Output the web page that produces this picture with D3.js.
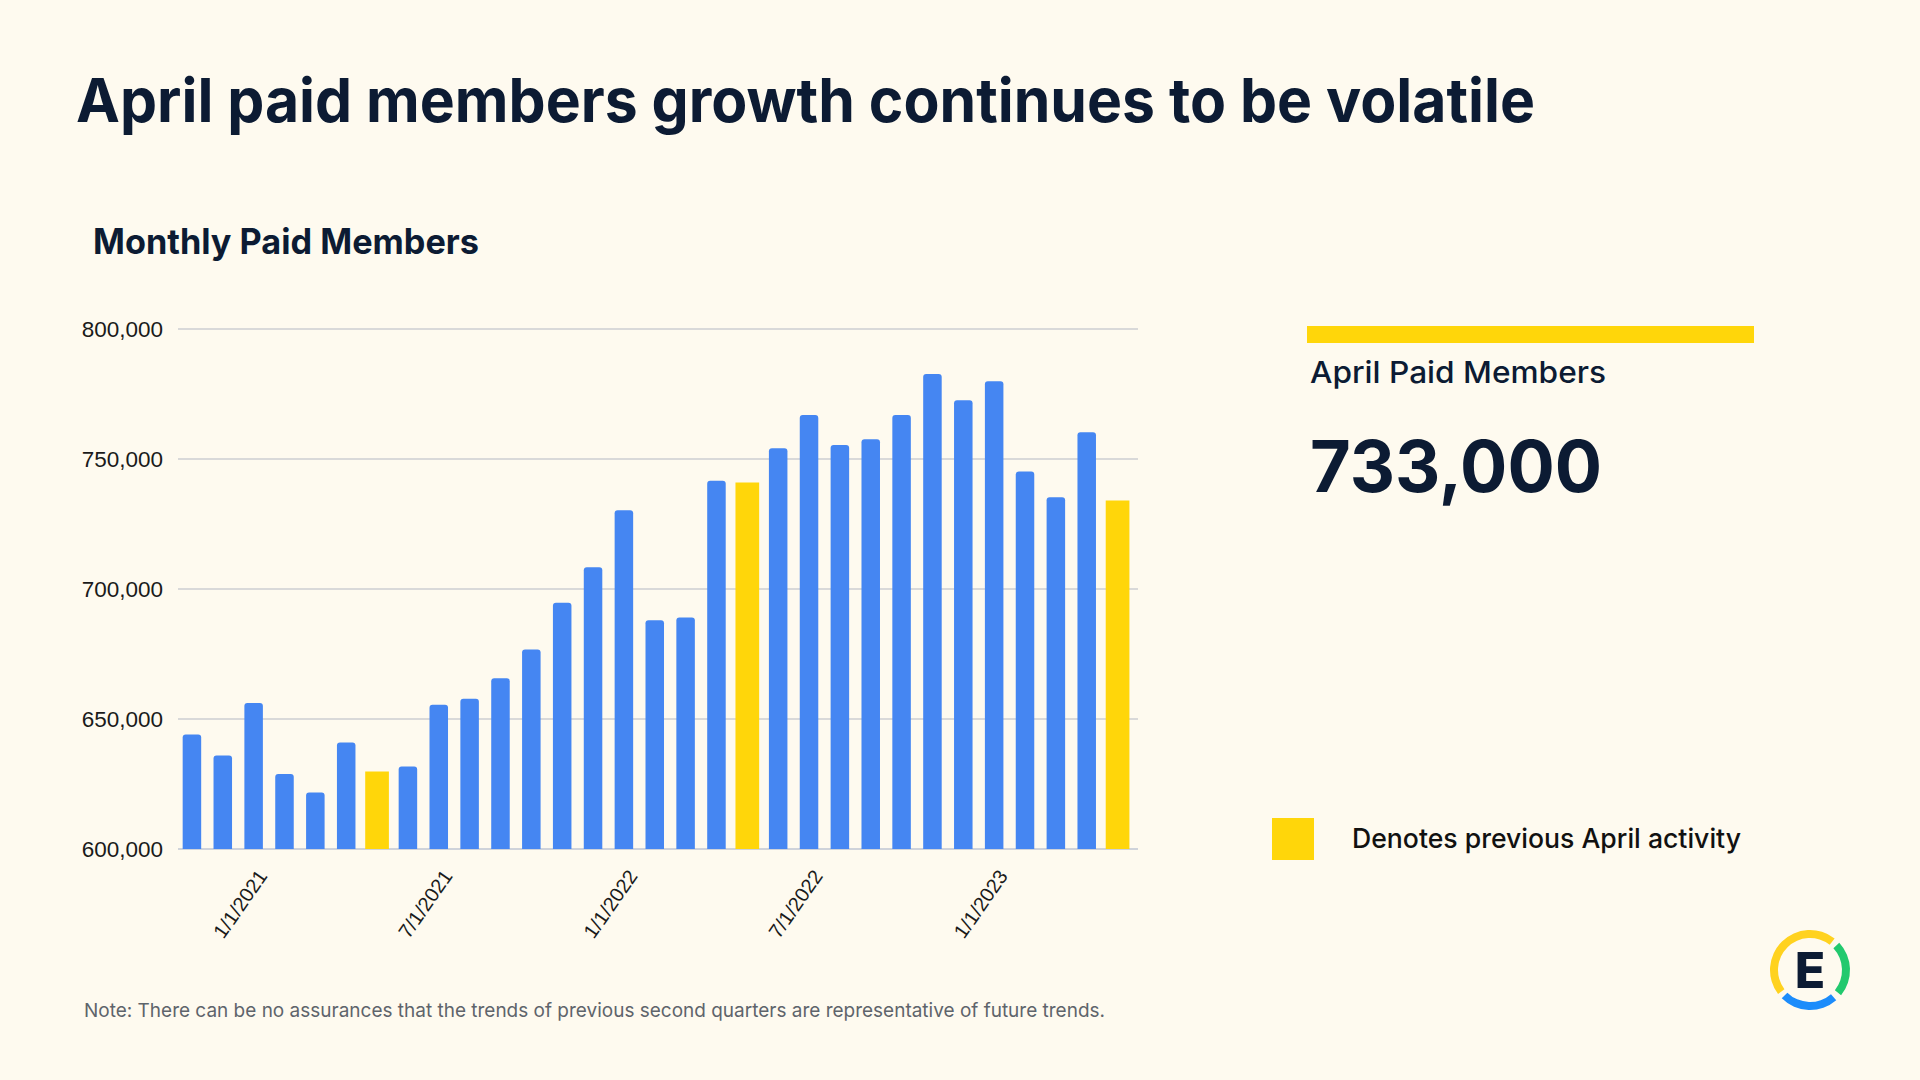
<!DOCTYPE html>
<html>
<head>
<meta charset="utf-8">
<script src="https://cdn.jsdelivr.net/npm/d3@7"></script>
<style>
  html, body { margin: 0; padding: 0; background: #FEFAEF; }
  svg { display: block; }
</style>
</head>
<body>
<svg id="chart" width="1920" height="1080"></svg>
<script>
// ---- Data ----
const months = [
  "2020-10","2020-11","2020-12","2021-01","2021-02","2021-03","2021-04","2021-05","2021-06","2021-07",
  "2021-08","2021-09","2021-10","2021-11","2021-12","2022-01","2022-02","2022-03","2022-04","2022-05",
  "2022-06","2022-07","2022-08","2022-09","2022-10","2022-11","2022-12","2023-01","2023-02","2023-03","2023-04"
];
const paidMembers = [
  644000, 636000, 656200, 628800, 621700, 641000, 629800, 631700, 655500, 657800,
  665700, 676700, 694700, 708400, 730300, 688000, 689000, 741600, 741000, 754100,
  766900, 755400, 757600, 766900, 782700, 772600, 779900, 745200, 735300, 760300, 734000
];
const yTicks = [600000, 650000, 700000, 750000, 800000];
const xTickMonths = ["2021-01","2021-07","2022-01","2022-07","2023-01"];
const xTickLabels = ["1/1/2021","7/1/2021","1/1/2022","7/1/2022","1/1/2023"];
const headlineValue = "733,000";

// ---- Styles ----
const BG = "#FEFAEF", NAVY = "#0C1B33", BLUE = "#4586F2", YELLOW = "#FFD60A";
const svg = d3.select("#chart");
svg.append("rect").attr("width", 1920).attr("height", 1080).attr("fill", BG);

function fitText(sel, w) {
  sel.attr("textLength", w).attr("lengthAdjust", "spacingAndGlyphs");
}

// Title
svg.append("text").attr("x", 76).attr("y", 122)
  .attr("font-family", "Inter").attr("font-weight", 700).attr("font-size", 61)
  .attr("fill", NAVY).text("April paid members growth continues to be volatile")
  .call(fitText, 1459);

// Subtitle
svg.append("text").attr("x", 93).attr("y", 254)
  .attr("font-family", "Inter").attr("font-weight", 700).attr("font-size", 35)
  .attr("fill", NAVY).text("Monthly Paid Members")
  .call(fitText, 386);

// ---- Chart ----
const x = d3.scaleBand().domain(months).range([176.5, 1133]).paddingInner(0.4).paddingOuter(0.2);
const y = d3.scaleLinear().domain([600000, 800000]).range([849, 329]);

const g = svg.append("g");

// gridlines
g.selectAll("line.grid").data(yTicks).join("line")
  .attr("x1", 178).attr("x2", 1138)
  .attr("y1", d => y(d)).attr("y2", d => y(d))
  .attr("stroke", d => d === 600000 ? "#CFD3DA" : "#D9D9D9").attr("stroke-width", 2);

// y axis labels
const yAxis = d3.axisLeft(y).tickValues(yTicks).tickFormat(d3.format(",")).tickSize(0).tickPadding(0);
const ya = g.append("g").attr("transform", "translate(163,0)").call(yAxis);
ya.select(".domain").remove();
ya.selectAll("text").attr("font-family", "Liberation Sans, Arial").attr("font-size", 22.5).attr("fill", "#1a1a1a");

// bars
const isApril = m => m.endsWith("-04");
const bw = x.bandwidth();
function barPath(x0, y0, w, h, r) {
  return `M${x0},${y0 + h}V${y0 + r}Q${x0},${y0} ${x0 + r},${y0}H${x0 + w - r}Q${x0 + w},${y0} ${x0 + w},${y0 + r}V${y0 + h}Z`;
}
g.selectAll("path.bar").data(months).join("path")
  .attr("d", (m, i) => {
    const v = paidMembers[i];
    const cx = x(m) + bw / 2;
    if (isApril(m)) {
      const w = bw * 1.28;
      return barPath(cx - w / 2, y(v), w, y(600000) - y(v), 0);
    }
    return barPath(cx - bw / 2, y(v), bw, y(600000) - y(v), 3);
  })
  .attr("fill", m => isApril(m) ? YELLOW : BLUE);

// x axis labels
const xAxis = d3.axisBottom(x).tickValues(xTickMonths)
  .tickFormat(m => xTickLabels[xTickMonths.indexOf(m)]).tickSize(0).tickPadding(0);
const xa = g.append("g").attr("transform", "translate(0,849)").call(xAxis);
xa.select(".domain").remove();
xa.selectAll("text")
  .attr("font-family", "Liberation Sans, Arial").attr("font-size", 20).attr("fill", "#1a1a1a")
  .attr("text-anchor", "end").attr("y", 0)
  .attr("transform", "translate(-22,23) rotate(-55)")
  .attr("dy", "0.35em");

// ---- Right panel ----
svg.append("rect").attr("x", 1307).attr("y", 326).attr("width", 447).attr("height", 17).attr("fill", YELLOW);
svg.append("text").attr("x", 1310).attr("y", 383)
  .attr("font-family", "Inter").attr("font-weight", 500).attr("font-size", 30)
  .attr("fill", NAVY).text("April Paid Members").call(fitText, 296);
svg.append("text").attr("x", 1310).attr("y", 492)
  .attr("font-family", "Inter").attr("font-weight", 700).attr("font-size", 72)
  .attr("fill", NAVY).text(headlineValue).call(fitText, 292);

// legend
svg.append("rect").attr("x", 1272).attr("y", 818).attr("width", 42).attr("height", 42).attr("fill", YELLOW);
svg.append("text").attr("x", 1352).attr("y", 848)
  .attr("font-family", "Inter").attr("font-weight", 500).attr("font-size", 27)
  .attr("fill", "#111111").text("Denotes previous April activity").call(fitText, 389);

// note
svg.append("text").attr("x", 84).attr("y", 1017)
  .attr("font-family", "Inter").attr("font-weight", 400).attr("font-size", 19)
  .attr("fill", "#5E646B").text("Note: There can be no assurances that the trends of previous second quarters are representative of future trends.")
  .call(fitText, 1021);

// ---- Logo ----
const logo = svg.append("g").attr("transform", "translate(1810,970)");
const arc = d3.arc().innerRadius(32).outerRadius(40);
const deg = Math.PI / 180;
[
  { s: 233, e: 398, c: "#FFD21F" },
  { s: 47, e: 129, c: "#22C96E" },
  { s: 139, e: 225, c: "#1C8CFB" }
].forEach(a => {
  logo.append("path").attr("d", arc({ startAngle: a.s * deg, endAngle: a.e * deg })).attr("fill", a.c);
});
logo.append("text").attr("x", 0).attr("y", 18).attr("text-anchor", "middle")
  .attr("font-family", "Inter").attr("font-weight", 800).attr("font-size", 50)
  .attr("fill", NAVY).text("E");
</script>
</body>
</html>
